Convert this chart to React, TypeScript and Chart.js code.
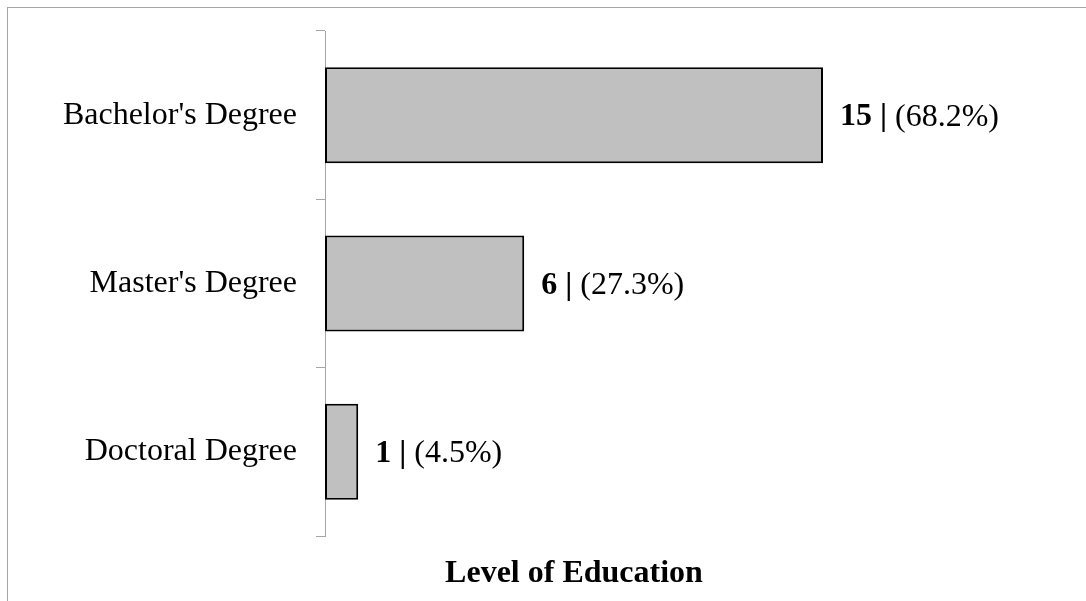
import React, { useEffect, useRef } from "react";
import { Chart, registerables } from "chart.js";

Chart.register(...registerables);

const categories = ["Bachelor's Degree", "Master's Degree", "Doctoral Degree"];
const counts = [15, 6, 1];
const percents = [68.2, 27.3, 4.5];
const axisTitle = "Level of Education";

const FONT = '"Liberation Serif", "Times New Roman", Times, serif';

const labelPlugin = {
  id: "barLabels",
  afterDatasetsDraw(chart: any) {
    const ctx = chart.ctx;
    const meta = chart.getDatasetMeta(0);
    ctx.save();
    ctx.fillStyle = "#000";
    ctx.textBaseline = "middle";
    ctx.textAlign = "left";
    meta.data.forEach((bar: any, i: number) => {
      const x = bar.x + 17;
      const y = bar.y + 2;
      const boldPart = `${counts[i]} |`;
      ctx.font = `bold 32px ${FONT}`;
      ctx.fillText(boldPart, x, y);
      const w = ctx.measureText(boldPart).width;
      ctx.font = `32px ${FONT}`;
      ctx.fillText(` (${percents[i].toFixed(1)}%)`, x + w, y);
    });
    ctx.restore();
  },
};

const titlePlugin = {
  id: "bottomTitle",
  afterDraw(chart: any) {
    const ctx = chart.ctx;
    ctx.save();
    ctx.fillStyle = "#000";
    ctx.font = `bold 32px ${FONT}`;
    ctx.textAlign = "center";
    ctx.textBaseline = "alphabetic";
    ctx.fillText(axisTitle, 566, 574);
    ctx.restore();
  },
};

export default function App() {
  const ref = useRef<HTMLCanvasElement | null>(null);

  useEffect(() => {
    if (!ref.current) return;
    const chart = new Chart(ref.current, {
      type: "bar",
      data: {
        labels: categories,
        datasets: [
          {
            data: counts,
            backgroundColor: "#c0c0c0",
            borderColor: "#000000",
            borderWidth: 2,
            borderSkipped: false,
            categoryPercentage: 1,
            barPercentage: 0.57,
          },
        ],
      },
      options: {
        indexAxis: "y",
        animation: false,
        responsive: false,
        devicePixelRatio: 1,
        layout: { padding: { left: 0, right: 97, top: 23, bottom: 65 } },
        plugins: {
          legend: { display: false },
          tooltip: { enabled: false },
          title: { display: false },
        },
        scales: {
          x: {
            display: false,
            min: 0,
            max: 20,
          },
          y: {
            afterFit: (scale: any) => {
              scale.width = 317;
              scale.paddingTop = 0;
              scale.paddingBottom = 0;
            },
            grid: {
              display: true,
              drawOnChartArea: false,
              drawTicks: true,
              tickLength: 9,
              color: "#a6a6a6",
              lineWidth: 1,
              offset: true,
            },
            border: { display: true, color: "#a6a6a6", width: 1 },
            ticks: {
              color: "#000",
              padding: 19,
              font: { family: FONT, size: 32 },
            },
          },
        },
      },
      plugins: [labelPlugin, titlePlugin],
    });
    return () => chart.destroy();
  }, []);

  return (
    <div
      style={{
        position: "fixed",
        left: 0,
        top: 0,
        width: "100vw",
        height: "100vh",
        overflow: "hidden",
        background: "#fff",
      }}
    >
      <div
        style={{
          position: "absolute",
          left: 7,
          top: 7,
          width: 1300,
          height: 800,
          borderTop: "1px solid #a6a6a6",
          borderLeft: "1px solid #a6a6a6",
        }}
      />
      <div style={{ position: "absolute", left: 8, top: 8, width: 1078, height: 593 }}>
        <canvas ref={ref} width={1078} height={593} style={{ width: 1078, height: 593, display: "block" }} />
      </div>
    </div>
  );
}
